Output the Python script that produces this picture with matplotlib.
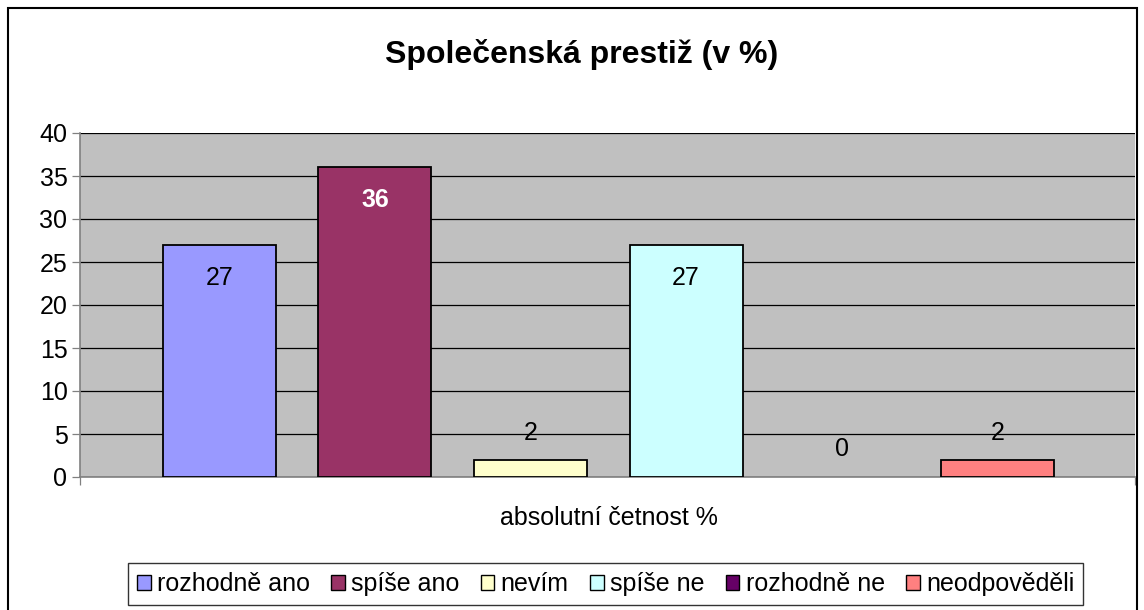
import matplotlib
matplotlib.use("Agg")
import matplotlib.pyplot as plt
from matplotlib.patches import Rectangle

plt.rcParams['font.family'] = ['Liberation Sans', 'DejaVu Sans']

categories = ["rozhodně ano", "spíše ano", "nevím", "spíše ne", "rozhodně ne", "neodpověděli"]
values = [27, 36, 2, 27, 0, 2]
colors = ["#9999FF", "#993366", "#FFFFCC", "#CCFFFF", "#660066", "#FF8080"]
title = "Společenská prestiž (v %)"
xlabel = "absolutní četnost %"
yticks = [0, 5, 10, 15, 20, 25, 30, 35, 40]

fig = plt.figure(figsize=(11.44, 6.10), dpi=100)
ax = fig.add_axes([80/1144, 1-477/610, (1135-80)/1144, (477-133)/610])
ax.set_facecolor("#C0C0C0")

width = 0.726
xs = list(range(len(values)))
for x, v, c, lab in zip(xs, values, colors, categories):
    ax.bar(x, v, width=width, color=c, edgecolor="black",
           linewidth=1.3 if v > 0 else 0, label=lab, zorder=3)

ax.set_xlim(-0.895, 5.885)
ax.set_ylim(0, 40)
ax.set_yticks(yticks)
ax.yaxis.grid(True, color="black", linewidth=0.9, zorder=1)
ax.set_axisbelow(True)
ax.tick_params(axis='y', labelsize=18, length=6, width=0.9, color="#808080", pad=3)
ax.set_xticks([-0.895, 5.885])
ax.set_xticklabels(["", ""])
ax.tick_params(axis='x', length=6, width=0.9, color="#808080", direction='out')
for s in ["top", "right"]:
    ax.spines[s].set_visible(False)
for s in ["left", "bottom"]:
    ax.spines[s].set_color("#808080")
    ax.spines[s].set_linewidth(1.2)

# data labels
for x, v in zip(xs, values):
    if v >= 20:
        col = "white" if v == 36 else "black"
        wt = "bold" if v == 36 else "normal"
        ax.annotate(str(v), (x, v), xytext=(0, -33), textcoords="offset pixels",
                    ha="center", va="center", fontsize=18, color=col, fontweight=wt, zorder=5)
    else:
        ax.annotate(str(v), (x, v), xytext=(0, 27 if v > 0 else 28), textcoords="offset pixels",
                    ha="center", va="center", fontsize=18, color="black", zorder=5)

fig.text(609/1144, 1-518/610, xlabel, ha="center", va="center", fontsize=18)
fig.text(582/1144, 1-54/610, title, ha="center", va="center", fontsize=23, fontweight="bold")

handles = [Rectangle((0, 0), 1, 1, facecolor=c, edgecolor="black", linewidth=1.0) for c in colors]
leg = fig.legend(handles, categories, loc="center", bbox_to_anchor=(605.5/1144, 1-584/610),
                 ncol=6, fontsize=18, frameon=True, fancybox=False, handlelength=0.55,
                 handleheight=0.55, handletextpad=0.25, columnspacing=0.85, borderpad=0.35,
                 borderaxespad=0)
leg.get_frame().set_edgecolor("black")
leg.get_frame().set_linewidth(1.0)

fig.patches.append(Rectangle((8/1144, -0.05), (1137-8)/1144, 1.05-8/610, transform=fig.transFigure,
                             fill=False, edgecolor="black", linewidth=1.5))

fig.savefig("out.png", dpi=100)
